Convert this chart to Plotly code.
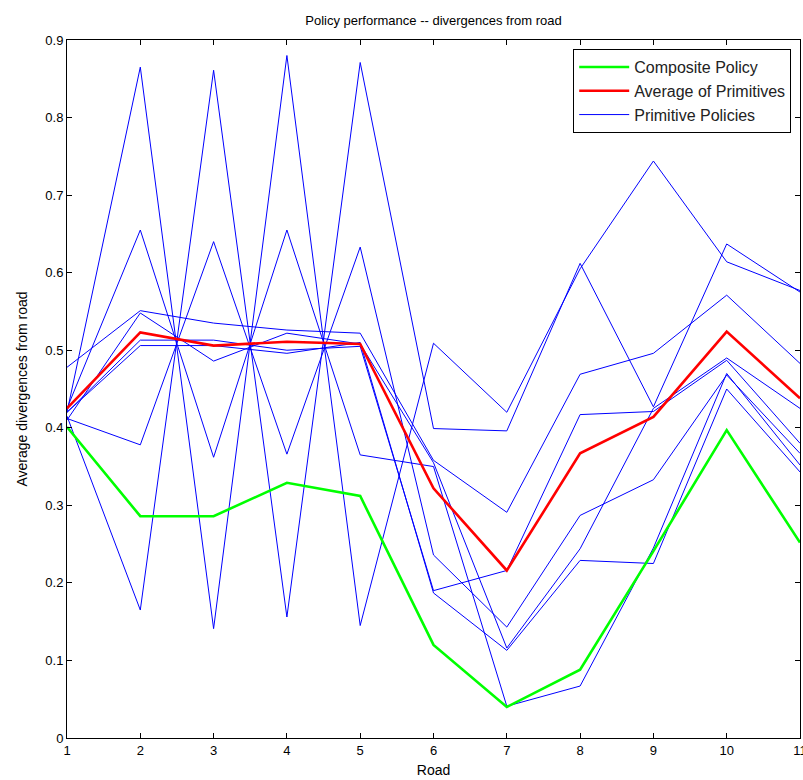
import plotly.graph_objects as go

# Road index on the x axis
roads = [1, 2, 3, 4, 5, 6, 7, 8, 9, 10, 11]

# Average divergence of each primitive policy, per road
primitive_a = [0.420, 0.865, 0.141, 0.880, 0.145, 0.509, 0.420, 0.605, 0.744, 0.614, 0.577]
primitive_b = [0.415, 0.165, 0.861, 0.156, 0.871, 0.399, 0.396, 0.612, 0.427, 0.637, 0.575]
primitive_c = [0.425, 0.655, 0.362, 0.655, 0.365, 0.350, 0.041, 0.067, 0.245, 0.470, 0.352]
primitive_d = [0.412, 0.378, 0.640, 0.366, 0.633, 0.236, 0.143, 0.287, 0.333, 0.468, 0.367]
primitive_e = [0.478, 0.551, 0.535, 0.526, 0.522, 0.358, 0.291, 0.469, 0.496, 0.571, 0.483]
primitive_f = [0.410, 0.548, 0.486, 0.522, 0.508, 0.355, 0.116, 0.244, 0.425, 0.490, 0.425]
primitive_g = [0.420, 0.513, 0.513, 0.500, 0.505, 0.190, 0.216, 0.417, 0.421, 0.487, 0.380]
primitive_h = [0.420, 0.506, 0.506, 0.496, 0.510, 0.187, 0.113, 0.229, 0.225, 0.450, 0.343]

# Average of the primitives and the composite policy
average_primitives = [0.425, 0.523, 0.506, 0.511, 0.508, 0.322, 0.216, 0.367, 0.414, 0.524, 0.438]
composite_policy = [0.401, 0.286, 0.286, 0.329, 0.312, 0.120, 0.040, 0.088, 0.241, 0.397, 0.252]

y_ticks = [0, 0.1, 0.2, 0.3, 0.4, 0.5, 0.6, 0.7, 0.8, 0.9]
y_tick_text = ["0", "0.1", "0.2", "0.3", "0.4", "0.5", "0.6", "0.7", "0.8", "0.9"]

FONT = "Liberation Sans, Arial, Helvetica, sans-serif"

fig = go.Figure()

primitives = [primitive_a, primitive_b, primitive_c, primitive_d,
              primitive_e, primitive_f, primitive_g, primitive_h]
for i, series in enumerate(primitives):
    fig.add_trace(go.Scatter(
        x=roads, y=series, mode="lines",
        line=dict(color="#0000FF", width=1),
        name="Primitive Policies",
        legendgroup="prim", showlegend=(i == 0), legendrank=3,
    ))

fig.add_trace(go.Scatter(
    x=roads, y=average_primitives, mode="lines",
    line=dict(color="#FF0000", width=2.6),
    name="Average of Primitives", legendrank=2,
))
fig.add_trace(go.Scatter(
    x=roads, y=composite_policy, mode="lines",
    line=dict(color="#00FF00", width=2.6),
    name="Composite Policy", legendrank=1,
))

axis_common = dict(
    showline=True, linecolor="black", linewidth=1, mirror="ticks",
    ticks="inside", ticklen=5, tickcolor="black", tickwidth=1,
    showgrid=False, zeroline=False, ticklabeloverflow="allow",
    automargin=False,
    tickfont=dict(family=FONT, size=13, color="black"),
)

fig.update_layout(
    width=803, height=780,
    margin=dict(l=67, r=3, t=40, b=42),
    paper_bgcolor="white", plot_bgcolor="white",
    font=dict(family=FONT, size=13, color="black"),
    title=dict(text="Policy performance -- divergences from road",
               x=(67 + 800) / 2 / 803, xanchor="center",
               y=1 - 20 / 780, yanchor="middle",
               font=dict(family=FONT, size=13, color="black")),
    xaxis=dict(range=[1, 11], tickmode="array", tickvals=roads,
               title=dict(text="Road", standoff=8,
                          font=dict(family=FONT, size=14, color="black")),
               **axis_common),
    yaxis=dict(range=[0, 0.9], tickmode="array", tickvals=y_ticks,
               ticktext=y_tick_text,
               title=dict(text="Average divergences from road", standoff=14,
                          font=dict(family=FONT, size=14, color="black")),
               **axis_common),
    legend=dict(x=0.988, xanchor="right", y=0.987, yanchor="top",
                bgcolor="white", bordercolor="black", borderwidth=1,
                font=dict(family=FONT, size=16, color="#222222"),
                itemwidth=50, tracegroupgap=0),
    showlegend=True,
)

fig.write_html("out.html")
